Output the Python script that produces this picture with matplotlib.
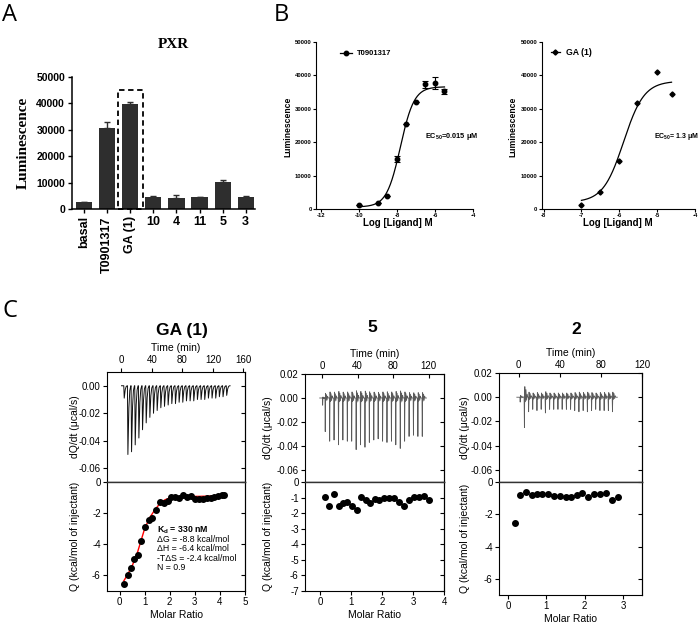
import numpy as np
import matplotlib
matplotlib.use('Agg')
import matplotlib.pyplot as plt
from matplotlib.patches import Rectangle

plt.rcParams['font.family'] = ['Liberation Sans', 'DejaVu Sans']
plt.rcParams['axes.unicode_minus'] = False
plt.rcParams['mathtext.default'] = 'regular'

# ---------------- data ----------------
# Panel A
bar_categories = ['basal', 'T0901317', 'GA (1)', '10', '4', '11', '5', '3']
bar_values = [2600, 30800, 39600, 4750, 4400, 4500, 10400, 4700]
bar_errors = [150, 2000, 700, 350, 900, 250, 500, 150]
rotated_labels = ['basal', 'T0901317', 'GA (1)']

# Panel B (left): T0901317 dose response
t09_logc = [-10, -9, -8.5, -8, -7.5, -7, -6.5, -6, -5.5]
t09_lum = [1200, 1700, 4000, 15000, 25500, 32000, 37300, 37700, 35200]
t09_err = [0, 0, 0, 800, 0, 0, 1000, 1800, 700]
t09_fit = dict(bottom=600, top=36600, logec50=-7.82, hill=1.2, lo=-10, hi=-5.5)
# Panel B (right): GA (1) dose response
ga_logc = [-7, -6.5, -6, -5.52, -5, -4.62]
ga_lum = [1200, 5000, 14500, 31700, 41000, 34500]
ga_fit = dict(bottom=2000, top=38300, logec50=-5.886, hill=1.6, lo=-7, hi=-4.62)

# Panel C: ITC, GA (1)
gaitc_inj_time = [3.0, 7.8, 12.6, 17.4, 22.2, 27.0, 31.8, 36.6, 41.4, 46.2, 51.0, 55.8,
                  60.6, 65.4, 70.2, 75.0, 79.8, 84.6, 89.4, 94.2, 99.0, 103.8, 108.6,
                  113.4, 118.2, 123.0, 127.8, 132.6, 137.4]
gaitc_peak = [-0.009, -0.050, -0.048, -0.043, -0.038, -0.032, -0.027, -0.023, -0.020,
              -0.018, -0.016, -0.015, -0.014, -0.013, -0.013, -0.012, -0.012, -0.011,
              -0.011, -0.011, -0.010, -0.010, -0.010, -0.009, -0.009, -0.009, -0.008,
              -0.008, -0.007]
gaitc_ratio = [0.17, 0.32, 0.45, 0.58, 0.74, 0.87, 1.01, 1.17, 1.30, 1.46, 1.63, 1.76,
               1.92, 2.07, 2.22, 2.37, 2.53, 2.68, 2.84, 3.00, 3.16, 3.32, 3.47, 3.63,
               3.78, 3.93, 4.09, 4.16]
gaitc_q = [-6.52, -5.98, -5.55, -4.95, -4.67, -3.76, -2.90, -2.47, -2.32, -1.83, -1.29,
           -1.35, -1.20, -0.97, -0.97, -1.03, -0.82, -0.97, -0.90, -1.12, -1.12, -1.12,
           -1.01, -1.03, -0.97, -0.90, -0.86, -0.82]
gaitc_fit_ratio = [0.17, 0.3, 0.5, 0.7, 0.85, 1.0, 1.2, 1.4, 1.6, 1.8, 2.0, 2.3, 2.7,
                   3.2, 3.7, 4.16]
gaitc_fit_q = [-6.35, -6.0, -5.4, -4.6, -3.8, -3.0, -2.3, -1.8, -1.4, -1.15, -1.02,
               -0.95, -0.93, -0.92, -0.9, -0.88]
gaitc_text = ['$K_d$ = 330 nM', 'ΔG = -8.8 kcal/mol', 'ΔH = -6.4 kcal/mol',
              '-TΔS = -2.4 kcal/mol', 'N = 0.9']

# Panel C: ITC, 5
c5_inj_time = [0.5, 3.4, 8.4, 13.3, 18.3, 23.2, 28.2, 33.1, 38.1, 43.0, 48.0, 52.9,
               57.9, 62.8, 67.8, 72.7, 77.7, 82.6, 87.6, 92.5, 97.5, 102.4, 107.4, 112.3]
c5_peak = [-0.006, -0.028, -0.036, -0.035, -0.039, -0.035, -0.036, -0.036, -0.043,
           -0.039, -0.041, -0.037, -0.035, -0.034, -0.036, -0.037, -0.036, -0.039,
           -0.042, -0.036, -0.032, -0.031, -0.032, -0.032]
c5_ratio = [0.16, 0.30, 0.44, 0.60, 0.74, 0.88, 1.03, 1.18, 1.32, 1.47, 1.61, 1.76,
            1.91, 2.06, 2.24, 2.40, 2.55, 2.71, 2.86, 3.02, 3.18, 3.34, 3.51]
c5_q = [-0.94, -1.53, -0.77, -1.51, -1.36, -1.28, -1.51, -1.79, -0.94, -1.15, -1.34,
        -1.11, -1.13, -1.04, -1.02, -1.02, -1.26, -1.51, -1.13, -0.98, -0.94, -0.91,
        -1.13]

# Panel C: ITC, 2
c2_inj_time = [1.3, 5.4, 9.5, 13.5, 17.6, 21.7, 25.8, 29.9, 33.9, 38.0, 42.1, 46.2,
               50.3, 54.3, 58.4, 62.5, 66.6, 70.7, 74.7, 78.8, 82.9, 87.0, 91.0]
c2_peak = [-0.004, -0.025, -0.012, -0.010, -0.011, -0.010, -0.013, -0.010, -0.010,
           -0.010, -0.010, -0.010, -0.010, -0.011, -0.012, -0.011, -0.012, -0.011,
           -0.010, -0.011, -0.011, -0.011, -0.012]
c2_ratio = [0.17, 0.32, 0.46, 0.61, 0.75, 0.89, 1.04, 1.19, 1.35, 1.50, 1.65, 1.79,
            1.94, 2.09, 2.24, 2.41, 2.56, 2.72, 2.88]
c2_q = [-2.53, -0.82, -0.61, -0.80, -0.73, -0.73, -0.73, -0.84, -0.84, -0.96, -0.92,
        -0.80, -0.67, -0.90, -0.73, -0.76, -0.69, -1.10, -0.90]

# ---------------- figure ----------------
W, H = 698, 622
fig = plt.figure(figsize=(W / 100, H / 100), dpi=100)


def px_axes(l, t, r, b):
    return fig.add_axes([l / W, 1 - b / H, (r - l) / W, (b - t) / H])


def ftext(x, y, s, **kw):
    return fig.text(x / W, 1 - y / H, s, **kw)


def hill(p, x):
    return p['bottom'] + (p['top'] - p['bottom']) / (1 + 10 ** ((p['logec50'] - x) * p['hill']))


# panel letters
ftext(9, 15, 'A', fontsize=17, family='Open Sans', ha='center', va='center')
ftext(281, 15, 'B', fontsize=17, family='Open Sans', ha='center', va='center')
ftext(10, 311, 'C', fontsize=17, family='Open Sans', ha='center', va='center')

# ---------------- Panel A ----------------
axA = px_axes(72, 76.7, 255, 209.3)
pos = np.arange(len(bar_categories))
axA.bar(pos, bar_values, width=0.7, color='#2e2e2e', zorder=2)
axA.errorbar(pos, bar_values, yerr=[np.zeros(len(bar_errors)), bar_errors], fmt='none',
             ecolor='#2e2e2e', elinewidth=1, capsize=2.5, capthick=1, zorder=2)
axA.set_xlim(-0.52, 7.4)
axA.set_ylim(0, 50000)
axA.set_yticks([0, 10000, 20000, 30000, 40000, 50000])
for s in ['top', 'right']:
    axA.spines[s].set_visible(False)
for s in ['left', 'bottom']:
    axA.spines[s].set_linewidth(1.1)
axA.tick_params(axis='y', labelsize=7.5, length=3, width=1, pad=2)
axA.tick_params(axis='x', length=3, width=1, pad=2)
axA.set_xticks(pos)
axA.set_xticklabels(bar_categories, fontsize=9, fontweight='bold')
for lab in axA.get_yticklabels():
    lab.set_fontweight('bold')
for lab in axA.get_xticklabels():
    if lab.get_text() in rotated_labels:
        lab.set_rotation(90)
        lab.set_va('top')
        lab.set_ha('center')
ga_idx = bar_categories.index('GA (1)')
axA.add_patch(Rectangle((ga_idx - 0.55, 0), 1.1, 45000, fill=False, ls=(0, (3, 2)),
                        lw=1.3, ec='black', clip_on=False, zorder=3))
ftext(173, 45, 'PXR', fontsize=11, family='Liberation Serif', fontweight='bold',
      ha='center', va='center')
ftext(23, 143, 'Luminescence', fontsize=11, family='Liberation Serif', fontweight='bold',
      ha='center', va='center', rotation=90)

# ---------------- Panel B ----------------
def dose_axes(l, r, xlim, xticks, xticklabels):
    ax = px_axes(l, 42, r, 209)
    ax.set_xlim(*xlim)
    ax.set_ylim(0, 50000)
    ax.set_yticks([0, 10000, 20000, 30000, 40000, 50000])
    ax.set_xticks(xticks)
    ax.set_xticklabels(xticklabels)
    for s in ['top', 'right']:
        ax.spines[s].set_visible(False)
    for s in ['left', 'bottom']:
        ax.spines[s].set_linewidth(0.8)
    ax.tick_params(labelsize=4.2, length=2.0, width=0.8, pad=1.0)
    for lab in ax.get_xticklabels() + ax.get_yticklabels():
        lab.set_fontweight('bold')
    return ax


axB1 = dose_axes(316, 473, (-12.26, -4), [-12, -10, -8, -6, -4],
                 ['-12', '-10', '-8', '-6', '-4'])
xf = np.linspace(t09_fit['lo'], t09_fit['hi'], 200)
axB1.plot(xf, hill(t09_fit, xf), color='black', lw=0.9)
axB1.errorbar(t09_logc, t09_lum, yerr=t09_err, fmt='o', ms=3.2, color='black',
              ecolor='black', elinewidth=0.8, capsize=2, capthick=0.8)
axB1.plot([0.153, 0.229], [0.934, 0.934], transform=axB1.transAxes, color='black', lw=0.9)
axB1.plot([0.191], [0.934], 'o', ms=3.2, color='black', transform=axB1.transAxes)
axB1.text(0.261, 0.934, 'T0901317', transform=axB1.transAxes, fontsize=5.5,
          fontweight='bold', va='center')
ftext(425, 137, 'EC$_{50}$=0.015 μM', fontsize=5.3, fontweight='bold', va='center')
ftext(288, 127, 'Luminescence', fontsize=6.2, fontweight='bold', rotation=90,
      ha='center', va='center')
ftext(398, 223, 'Log [Ligand] M', fontsize=7, fontweight='bold', ha='center', va='center')

axB2 = dose_axes(541.7, 695, (-8.05, -4), [-8, -7, -6, -5, -4],
                 ['-8', '-7', '-6', '-5', '-4'])
xf = np.linspace(ga_fit['lo'], ga_fit['hi'], 200)
axB2.plot(xf, hill(ga_fit, xf), color='black', lw=0.9)
axB2.plot(ga_logc, ga_lum, 'D', ms=2.6, color='black', ls='none')
axB2.plot([0.061, 0.119], [0.94, 0.94], transform=axB2.transAxes, color='black', lw=0.9)
axB2.plot([0.09], [0.94], 'D', ms=2.6, color='black', transform=axB2.transAxes)
axB2.text(0.158, 0.94, 'GA (1)', transform=axB2.transAxes, fontsize=6.3,
          fontweight='bold', va='center')
ftext(654, 137, 'EC$_{50}$= 1.3 μM', fontsize=5.0, fontweight='bold', va='center')
ftext(513, 127, 'Luminescence', fontsize=6.2, fontweight='bold', rotation=90,
      ha='center', va='center')
ftext(618, 223, 'Log [Ligand] M', fontsize=7, fontweight='bold', ha='center', va='center')


# ---------------- Panel C ----------------
def thermogram(times, depths, shape_dt, shape_f):
    ts = [times[0] - 3]
    ys = [0.0]
    for t, d in zip(times, depths):
        for dt, f in zip(shape_dt, shape_f):
            ts.append(t + dt)
            ys.append(d * f)
    ts.append(times[-1] + 5)
    ys.append(0.0)
    return ts, ys


def itc_panel(l, r, t_top, b_bot, title, title_xy, time_lim, time_ticks, top_ylim,
              top_yticks, bot_xlim, bot_xticks, bot_yticks, ylab_dx, top_tick_dir):
    mid = 482
    axT = px_axes(l, t_top, r, mid)
    axB = px_axes(l, mid, r, b_bot)
    wpx = r - l
    # top axes
    axT.set_xlim(*time_lim)
    axT.set_ylim(*top_ylim)
    axT.xaxis.tick_top()
    axT.xaxis.set_label_position('top')
    axT.set_xticks(time_ticks)
    axT.set_yticks(top_yticks)
    axT.set_yticklabels(['%.2f' % v for v in top_yticks])
    axT.set_xlabel('Time (min)', fontsize=7.5, labelpad=3)
    axT.tick_params(axis='x', direction=top_tick_dir, length=3, width=0.8, labelsize=7,
                    pad=2)
    axT.tick_params(axis='y', direction='out', length=3, width=0.8, labelsize=7, pad=1.5)
    secT = axT.secondary_yaxis('right')
    secT.set_yticks(top_yticks)
    secT.tick_params(direction='in', length=3, width=0.8, labelright=False)
    secT.spines['right'].set_linewidth(0.8)
    axT.set_ylabel('dQ/dt (μcal/s)', fontsize=7.5)
    axT.yaxis.set_label_coords(-ylab_dx / wpx, 0.5)
    # bottom axes
    axB.set_xlim(*bot_xlim)
    axB.set_ylim(-7, 0)
    axB.set_xticks(bot_xticks)
    axB.set_yticks(bot_yticks)
    axB.set_yticklabels(['%d' % v for v in bot_yticks])
    axB.tick_params(axis='both', direction='out', length=3, width=0.8, labelsize=7,
                    pad=1.5)
    secB = axB.secondary_yaxis('right')
    secB.set_yticks(bot_yticks)
    secB.tick_params(direction='in', length=3, width=0.8, labelright=False)
    secB.spines['right'].set_linewidth(0.8)
    axB.set_xlabel('Molar Ratio', fontsize=7.5, labelpad=2)
    axB.set_ylabel('Q (kcal/mol of injectant)', fontsize=7.5)
    axB.yaxis.set_label_coords(-ylab_dx / wpx, 0.5)
    for ax in (axT, axB):
        for s in ax.spines.values():
            s.set_linewidth(0.8)
    axT.spines['bottom'].set_linewidth(1.0)
    axT.spines['bottom'].set_color('#333333')
    axB.spines['top'].set_linewidth(1.0)
    axB.spines['top'].set_color('#333333')
    ftext(title_xy[0], title_xy[1], title, fontsize=12.5, fontweight='bold',
          ha='center', va='center')
    return axT, axB


# GA (1)
axT, axB = itc_panel(107, 245, 372, 591, 'GA (1)', (182, 331), (-19, 162),
                     [0, 40, 80, 120, 160], (-0.07, 0.01), [0.0, -0.02, -0.04, -0.06],
                     (-0.5, 5), [0, 1, 2, 3, 4, 5], [0, -2, -4, -6], 27, 'out')
tx, ty = thermogram(gaitc_inj_time, gaitc_peak, [0, 0.6, 1.9, 3.1, 4.4],
                    [0, 1, 0.32, 0.07, 0])
axT.plot(tx, ty, color='#111111', lw=0.7)
axB.plot(gaitc_fit_ratio, gaitc_fit_q, color='red', lw=1.0, zorder=2)
axB.plot(gaitc_ratio, gaitc_q, 'o', color='black', ms=4, zorder=3)
for i, line in enumerate(gaitc_text):
    axB.text(1.5, -3.13 - 0.585 * i, line, fontsize=6.3,
             fontweight='bold' if i == 0 else 'normal', va='center')

# noisy-baseline injection shape (gray traces)
noisy_dt = [0, 0.3, 0.7, 1.2, 1.8, 2.4, 3.0, 3.6]
# 5
axT, axB = itc_panel(305, 444, 374, 591, '5', (372, 327), (-19, 137),
                     [0, 40, 80, 120], (-0.07, 0.02), [0.02, 0.0, -0.02, -0.04, -0.06],
                     (-0.48, 4), [0, 1, 2, 3, 4], [0, -1, -2, -3, -4, -5, -6, -7], 32, 'in')
tx, ty = thermogram(c5_inj_time, c5_peak, noisy_dt,
                    [0, 1, -0.14, 0.08, -0.1, 0.06, -0.05, 0])
axT.plot(tx, ty, color='#5a5a5a', lw=0.6)
axB.plot(c5_ratio, c5_q, 'o', color='black', ms=4)

# 2
axT, axB = itc_panel(499, 642, 373, 595, '2', (576, 329), (-19, 120),
                     [0, 40, 80, 120], (-0.07, 0.02), [0.02, 0.0, -0.02, -0.04, -0.06],
                     (-0.24, 3.5), [0, 1, 2, 3], [0, -2, -4, -6], 29, 'in')
tx, ty = thermogram(c2_inj_time, c2_peak, noisy_dt,
                    [0, 1, -0.35, 0.15, -0.25, 0.1, -0.1, 0])
axT.plot(tx, ty, color='#5a5a5a', lw=0.6)
axB.plot(c2_ratio, c2_q, 'o', color='black', ms=4)

fig.savefig('out.png', dpi=100)
